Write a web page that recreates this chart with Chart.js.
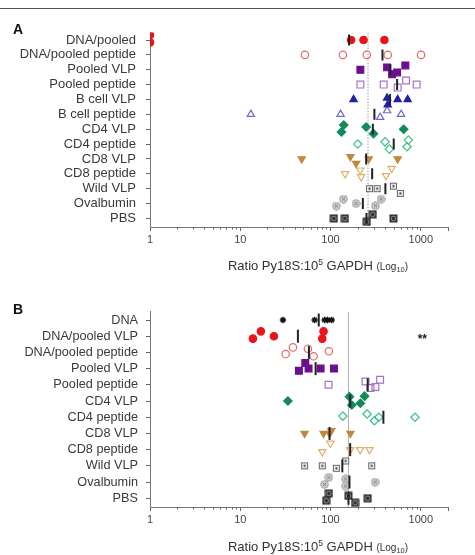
<!DOCTYPE html>
<html lang="en">
<head>
<meta charset="UTF-8">
<title>Py18S parasite load by immunisation group</title>
<script src="https://cdn.jsdelivr.net/npm/chart.js"></script>
<style>
  body { margin: 0; background: #fff; font-family: "Liberation Sans", Arial, sans-serif; }
  #frame { position: relative; width: 475px; height: 555px; overflow: hidden; }
  #rule { position: absolute; left: 0; top: 8px; width: 475px; border-top: 1px solid #555; }
  .panel { position: absolute; left: 0; }
  #chartA { top: 0; }
  #chartB { top: 280px; }
  .letter { position: absolute; left: 13px; font-weight: bold; font-size: 14px; color: #111; }
</style>
</head>
<body>
<div id="frame">
  <div id="rule"></div>
  <canvas id="chartA" class="panel" width="475" height="280"></canvas>
  <canvas id="chartB" class="panel" width="475" height="275"></canvas>
  <div class="letter" style="top:21px">A</div>
  <div class="letter" style="top:301px">B</div>
</div>

<script>
// ---- data (ratio Py18S : 10^5 GAPDH) ----
const groupsA = ['DNA/pooled', 'DNA/pooled peptide', 'Pooled VLP', 'Pooled peptide', 'B cell VLP',
  'B cell peptide', 'CD4 VLP', 'CD4 peptide', 'CD8 VLP', 'CD8 peptide', 'Wild VLP', 'Ovalbumin', 'PBS'];
const valuesA = [
  [1, 1, 169, 232, 395],
  [52, 137, 252, 430, 1005],
  [214, 423, 481, 546, 674],
  [214, 388, 554, 686, 899],
  [180, 423, 430, 554, 715],
  [13.1, 129, 354, 423, 604],
  [140, 132, 248, 299, 646],
  [200, 402, 449, 728, 704],
  [48, 166, 192, 265, 554],
  [145, 213, 218, 412, 476],
  [270, 328, 497, 593],
  [139, 116, 192, 314, 363],
  [109, 144, 252, 293, 497]
];
// vertical scatter of each point within its row (fraction of a row)
const jitterA = [
  [-0.34, 0.16, 0, 0, 0],
  [0, 0, 0, 0, 0],
  [0, -0.16, 0.3, 0.18, -0.29],
  [0, 0, 0.2, -0.28, 0],
  [0, -0.1, 0.35, 0, 0],
  [0, 0, 0.2, -0.25, 0],
  [-0.28, 0.19, -0.15, 0.3, 0],
  [0, -0.15, 0.34, -0.27, 0.18],
  [0, -0.15, 0.3, 0, 0],
  [0, -0.25, 0.2, 0.13, -0.36],
  [0, 0, -0.17, 0.32],
  [-0.3, 0.17, 0, 0.15, -0.3],
  [0, 0, 0.23, -0.27, 0]
];
const mediansA = [160, 376, 460, 546, 456, 306, 294, 501, 248, 289, 405, 228, 250];
const referenceA = 260;

const groupsB = ['DNA', 'DNA/pooled VLP', 'DNA/pooled peptide', 'Pooled VLP', 'Pooled peptide', 'CD4 VLP',
  'CD4 peptide', 'CD8 VLP', 'CD8 peptide', 'Wild VLP', 'Ovalbumin', 'PBS'];
const valuesB = [
  [29.7, 66.6, 86, 93, 103],
  [13.8, 16.9, 23.6, 83.7, 81],
  [31.8, 38.3, 56.1, 64.9, 95.8],
  [44.6, 52.5, 57.1, 77.6, 109],
  [95, 244, 277, 314, 354],
  [33.7, 162, 238, 172, 214],
  [137, 254, 306, 342, 863],
  [51.6, 83.7, 97.5, 102, 166],
  [81, 99.3, 165, 213, 270],
  [51.6, 81, 116, 147, 286],
  [95.8, 85.9, 147, 147, 312],
  [95.8, 89.6, 158, 187, 258]
];
const jitterB = [
  [0, 0, 0, 0, 0],
  [0.15, -0.3, 0, -0.3, 0.15],
  [0.1, -0.31, -0.23, 0.24, -0.07],
  [0.13, -0.35, 0, 0, 0],
  [0, -0.2, 0.2, 0.13, -0.31],
  [0, -0.27, -0.3, 0.25, 0.14],
  [-0.07, -0.2, 0.22, 0, 0],
  [0, 0, 0, -0.17, 0],
  [0.13, -0.39, 0, 0, 0],
  [0, 0, 0.15, -0.3, 0],
  [-0.29, 0.14, -0.19, 0.25, 0],
  [-0.3, 0.15, -0.15, 0.28, 0]
];
const mediansB = [74, 43.5, 57.6, 68.3, 258, 165, 385, 97.5, 165, 135, 162, 158];
const referenceB = 158;
const significanceB = { text: '**', value: 1040, row: 1 };

const xTickLabels = [1, 10, 100, 1000];

// ---- marker images for the grey control groups ----
function markerCanvas(draw) {
  const c = document.createElement('canvas');
  c.width = 9; c.height = 9;
  draw(c.getContext('2d'));
  return c;
}
const squareDot = markerCanvas(g => {
  g.fillStyle = '#f2f2f2'; g.fillRect(1, 1, 7, 7);
  g.strokeStyle = '#666'; g.lineWidth = 1; g.strokeRect(1.5, 1.5, 6, 6);
  g.fillStyle = '#333'; g.fillRect(3.5, 3.5, 2, 2);
});
const circleCross = markerCanvas(g => {
  g.beginPath(); g.arc(4.5, 4.5, 3.8, 0, Math.PI * 2);
  g.fillStyle = '#cfcfcf'; g.fill();
  g.strokeStyle = '#999'; g.lineWidth = 1; g.stroke();
  g.strokeStyle = '#777'; g.beginPath();
  g.moveTo(3, 3); g.lineTo(6, 6); g.moveTo(6, 3); g.lineTo(3, 6); g.stroke();
});
const squareCircle = markerCanvas(g => {
  g.fillStyle = '#2f2f2f'; g.fillRect(0.5, 0.5, 8, 8);
  g.beginPath(); g.arc(4.5, 4.5, 2.3, 0, Math.PI * 2);
  g.strokeStyle = '#9a9a9a'; g.lineWidth = 1; g.stroke();
});

const markerStyles = {
  'DNA':                { style: 'star', color: '#111', fill: false, r: 3.2 },
  'DNA/pooled':         { style: 'circle', color: '#e8141c', fill: true, r: 3.7 },
  'DNA/pooled VLP':     { style: 'circle', color: '#e8141c', fill: true, r: 3.7 },
  'DNA/pooled peptide': { style: 'circle', color: '#e46a6a', fill: false, r: 3.7 },
  'Pooled VLP':         { style: 'rect', color: '#6b0f8e', fill: true, r: 4.8 },
  'Pooled peptide':     { style: 'rect', color: '#a474c8', fill: false, r: 4.8 },
  'B cell VLP':         { style: 'triangle', color: '#1f1fa8', fill: true, r: 4.2 },
  'B cell peptide':     { style: 'triangle', color: '#6c6cc8', fill: false, r: 4.2 },
  'CD4 VLP':            { style: 'rectRot', color: '#138a5a', fill: true, r: 4.2 },
  'CD4 peptide':        { style: 'rectRot', color: '#3cbf8a', fill: false, r: 4.2 },
  'CD8 VLP':            { style: 'triangle', color: '#c08a3e', fill: true, r: 4.2, rot: 180 },
  'CD8 peptide':        { style: 'triangle', color: '#e2ae6c', fill: false, r: 4.2, rot: 180 },
  'Wild VLP':           { style: squareDot, color: '#666', fill: true, r: 4.5 },
  'Ovalbumin':          { style: circleCross, color: '#999', fill: true, r: 4.5 },
  'PBS':                { style: squareCircle, color: '#333', fill: true, r: 4.5 }
};

const isMajor = v => xTickLabels.includes(v) || v === 2000;

// short minor ticks under the log axis
const minorTicks = {
  id: 'minorTicks',
  afterDraw(chart) {
    const x = chart.scales.x, ctx = chart.ctx;
    ctx.save();
    ctx.strokeStyle = '#666';
    ctx.lineWidth = 1;
    x.ticks.forEach(t => {
      if (isMajor(t.value)) return;
      const px = Math.round(x.getPixelForValue(t.value)) + 0.5;
      ctx.beginPath(); ctx.moveTo(px, x.top); ctx.lineTo(px, x.top + 2.5); ctx.stroke();
    });
    ctx.restore();
  }
};

// axis title with superscript / subscript, plus optional significance text
const axisTitle = {
  id: 'axisTitle',
  afterDraw(chart, args, opts) {
    const ctx = chart.ctx, area = chart.chartArea;
    const parts = [
      { t: 'Ratio Py18S:10', size: 13, dy: 0 },
      { t: '5', size: 8.5, dy: -5 },
      { t: ' GAPDH ', size: 13, dy: 0 },
      { t: '(Log', size: 10, dy: 0 },
      { t: '10', size: 7.5, dy: 2 },
      { t: ')', size: 10, dy: 0 }
    ];
    ctx.save();
    ctx.fillStyle = '#333';
    ctx.textBaseline = 'alphabetic';
    let total = 0;
    parts.forEach(p => { ctx.font = p.size + 'px "Liberation Sans", Arial'; p.w = ctx.measureText(p.t).width; total += p.w; });
    let x = (area.left + area.right) / 2 + 19 - total / 2;
    parts.forEach(p => {
      ctx.font = p.size + 'px "Liberation Sans", Arial';
      ctx.fillText(p.t, x, opts.y + p.dy);
      x += p.w;
    });
    if (opts.note) {
      ctx.font = 'bold 12px "Liberation Sans", Arial';
      ctx.textAlign = 'center';
      ctx.textBaseline = 'middle';
      ctx.fillStyle = '#222';
      ctx.fillText(opts.note.text, chart.scales.x.getPixelForValue(opts.note.value),
        chart.scales.y.getPixelForValue(opts.note.row) + 3);
    }
    ctx.restore();
  }
};

function buildChart(id, groups, values, jitter, medians, reference, cfg) {
  const datasets = [];
  datasets.push({
    data: [{ x: reference, y: -0.5 }, { x: reference, y: cfg.yMax }],
    showLine: true, pointRadius: 0, borderColor: cfg.refColor, borderWidth: 1,
    borderDash: cfg.refDash, order: 3
  });
  groups.forEach((g, i) => {
    const s = markerStyles[g];
    datasets.push({
      label: g,
      data: values[i].map((v, j) => ({ x: v, y: i + jitter[i][j] })),
      pointStyle: s.style,
      pointRadius: s.r,
      rotation: s.rot || 0,
      backgroundColor: s.fill ? s.color : 'rgba(255,255,255,0)',
      borderColor: s.color,
      borderWidth: s.style === 'star' ? 1.4 : 1.2,
      order: 2
    });
  });
  datasets.push({
    label: 'median',
    data: medians.map((m, i) => ({ x: m, y: i })),
    pointStyle: 'line', rotation: 90, pointRadius: cfg.barR,
    borderColor: '#222', borderWidth: 2, order: 1
  });

  const canvas = document.getElementById(id);
  new Chart(canvas, {
    type: 'scatter',
    data: { datasets },
    plugins: [minorTicks, axisTitle],
    options: {
      responsive: false,
      animation: false,
      events: [],
      layout: { padding: { top: cfg.top, right: 27, left: 0, bottom: 0 } },
      plugins: {
        legend: { display: false },
        tooltip: { enabled: false },
        axisTitle: { y: cfg.titleY, note: cfg.note }
      },
      scales: {
        x: {
          type: 'logarithmic',
          min: 1, max: 2000,
          afterBuildTicks: scale => {
            const t = [];
            [1, 10, 100, 1000].forEach(d => {
              for (let k = 1; k <= 9; k++) if (d * k <= 2000) t.push({ value: d * k });
            });
            t.push({ value: 2000 });
            scale.ticks = t;
          },
          afterFit: scale => { scale.height = canvas.height - 227; },
          ticks: {
            autoSkip: false, maxRotation: 0, minRotation: 0, padding: 2,
            color: '#444', font: { size: 11, family: '"Liberation Sans", Arial' },
            callback: v => xTickLabels.includes(v) ? String(v) : ''
          },
          grid: {
            drawOnChartArea: false, tickLength: 4,
            tickColor: ctx => ctx.tick && isMajor(ctx.tick.value) ? '#666' : 'rgba(0,0,0,0)'
          },
          border: { color: '#777', width: 1 }
        },
        y: {
          type: 'linear',
          reverse: true,
          min: -0.5, max: cfg.yMax,
          afterBuildTicks: scale => { scale.ticks = groups.map((g, i) => ({ value: i })); },
          afterFit: scale => { scale.width = 150; },
          ticks: {
            autoSkip: false, padding: cfg.labelPad,
            color: '#3a3a3a', font: { size: cfg.labelSize, family: '"Liberation Sans", Arial' },
            callback: v => groups[v] !== undefined ? groups[v] : ''
          },
          grid: { drawOnChartArea: false, tickLength: 4, tickColor: '#666' },
          border: { color: '#777', width: 1 }
        }
      }
    }
  });
}

buildChart('chartA', groupsA, valuesA, jitterA, mediansA, referenceA, {
  top: 32.6, yMax: 12.58, barR: 5.5, labelPad: 10, labelSize: 13, titleY: 269.5,
  refColor: '#9a9a9a', refDash: [1.5, 1.5]
});
buildChart('chartB', groupsB, valuesB, jitterB, mediansB, referenceB, {
  top: 31.9, yMax: 11.54, barR: 6.5, labelPad: 8, labelSize: 12.7, titleY: 270.5,
  refColor: '#b5b5b5', refDash: [], note: significanceB
});
</script>
</body>
</html>
